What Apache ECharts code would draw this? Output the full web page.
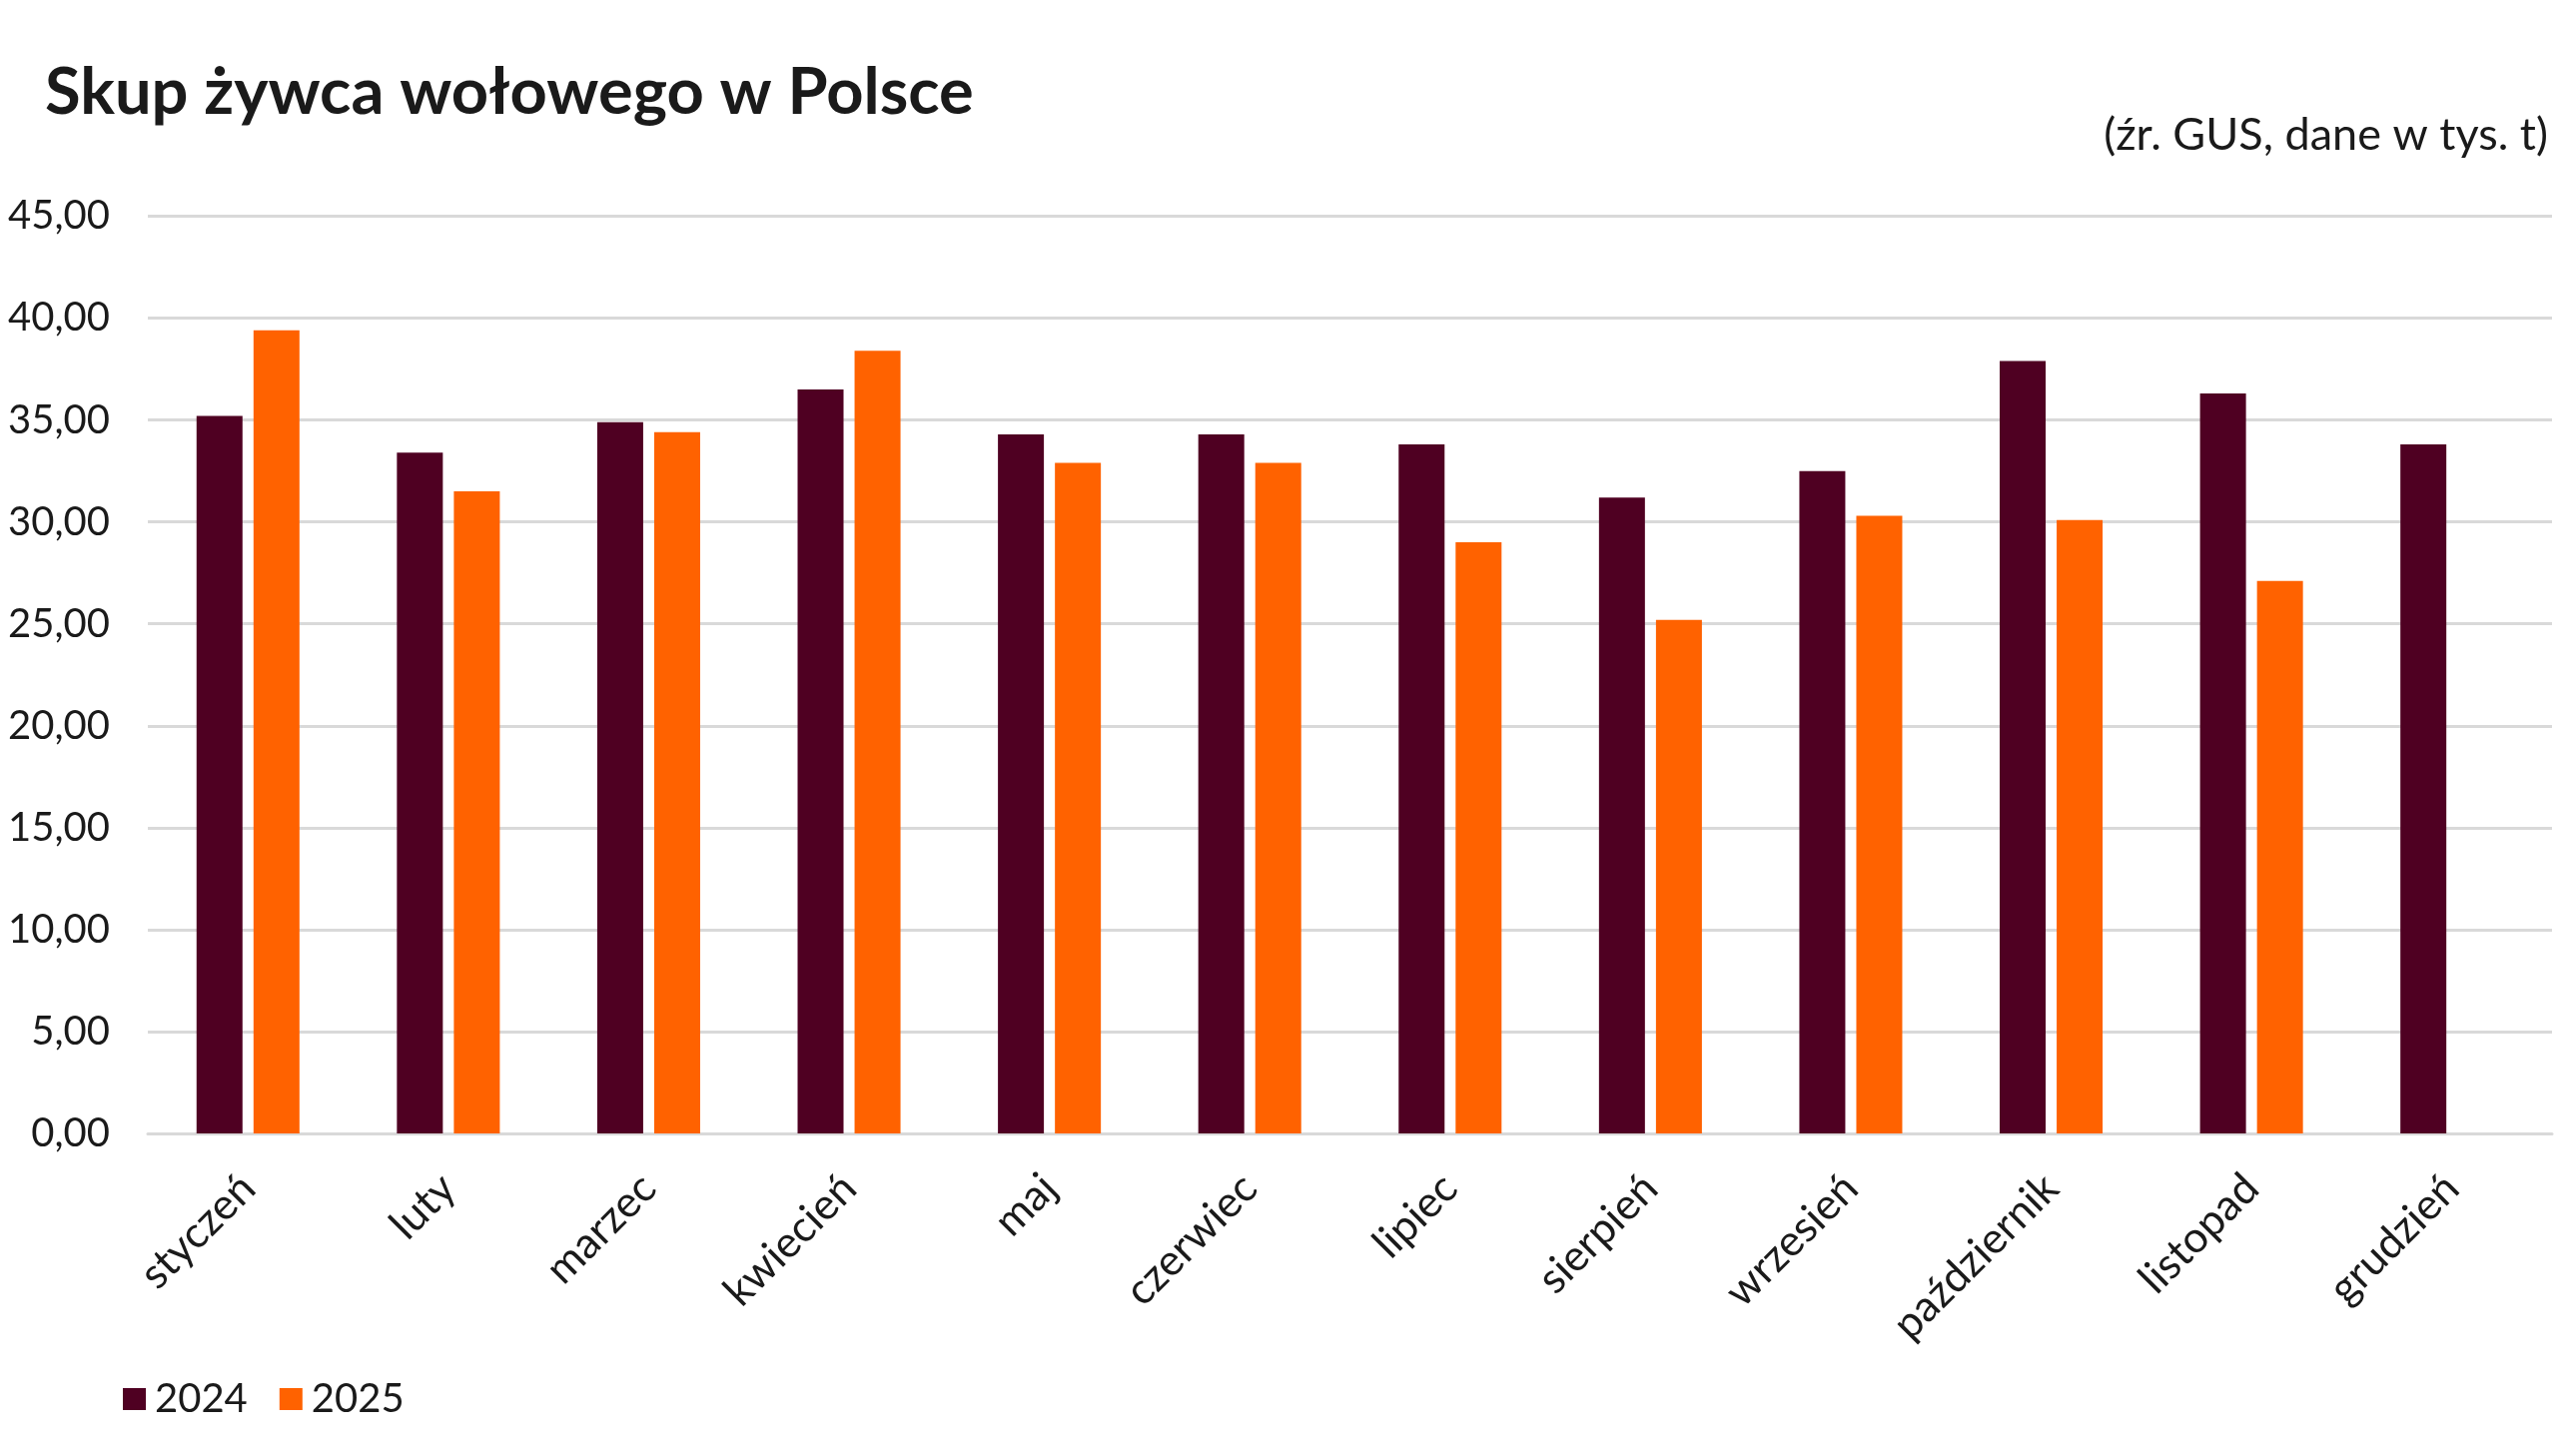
<!DOCTYPE html>
<html>
<head>
<meta charset="utf-8">
<script src="https://cdn.jsdelivr.net/npm/echarts@6/dist/echarts.min.js"></script>
<style>
html,body{margin:0;padding:0;background:#fff;}
#chart{width:2572px;height:1458px;}
</style>
</head>
<body>
<div id="chart"></div>
<script>
const titleText = 'Skup żywca wołowego w Polsce';
const subtitleText = '(źr. GUS, dane w tys. t)';
const months = ['styczeń','luty','marzec','kwiecień','maj','czerwiec','lipiec','sierpień','wrzesień','październik','listopad','grudzień'];
const seriesNames = ['2024','2025'];
const values2024 = [35.2, 33.4, 34.9, 36.5, 34.3, 34.3, 33.8, 31.2, 32.5, 37.9, 36.3, 33.8];
const values2025 = [39.4, 31.5, 34.4, 38.4, 32.9, 32.9, 29.0, 25.2, 30.3, 30.1, 27.1, null];
const yMin = 0, yMax = 45, yStep = 5;

const FONT = 'Lato';
const TXT = '#1a1a1a';
const chart = echarts.init(document.getElementById('chart'), null, {renderer:'canvas'});
chart.setOption({
  backgroundColor:'#ffffff',
  animation:false,
  title:[
    {text:titleText, left:40, top:56, textStyle:{fontFamily:FONT, fontWeight:'bold', fontSize:65, color:TXT}},
    {text:subtitleText, right:16, top:108, textStyle:{fontFamily:FONT, fontWeight:'normal', fontSize:45, color:TXT}}
  ],
  legend:{
    left:118, top:1376, itemWidth:23, itemHeight:22, itemGap:32,
    icon:'rect',
    textStyle:{fontFamily:FONT, fontSize:40, color:TXT, padding:[0,0,0,4]},
    data:seriesNames
  },
  grid:{left:148, right:17, top:216.5, bottom:323, containLabel:false},
  xAxis:{
    type:'category', data:months,
    axisLine:{show:true, lineStyle:{color:'#d9d9d9', width:3}},
    axisTick:{show:false},
    axisLabel:{rotate:45, margin:48, fontFamily:FONT, fontSize:43, color:TXT, interval:0}
  },
  yAxis:{
    type:'value', min:yMin, max:yMax, interval:yStep,
    axisLine:{show:false}, axisTick:{show:false},
    splitLine:{lineStyle:{color:'#d9d9d9', width:3}},
    axisLabel:{margin:38, fontFamily:FONT, fontSize:40, color:TXT,
      formatter:v=>v.toFixed(2).replace('.',',')}
  },
  series:[
    {name:seriesNames[0], type:'bar', data:values2024, barWidth:46, barGap:'24%', itemStyle:{color:'#4f0022'}},
    {name:seriesNames[1], type:'bar', data:values2025, barWidth:46, barGap:'24%', itemStyle:{color:'#ff6200'}}
  ]
});
</script>
</body>
</html>
